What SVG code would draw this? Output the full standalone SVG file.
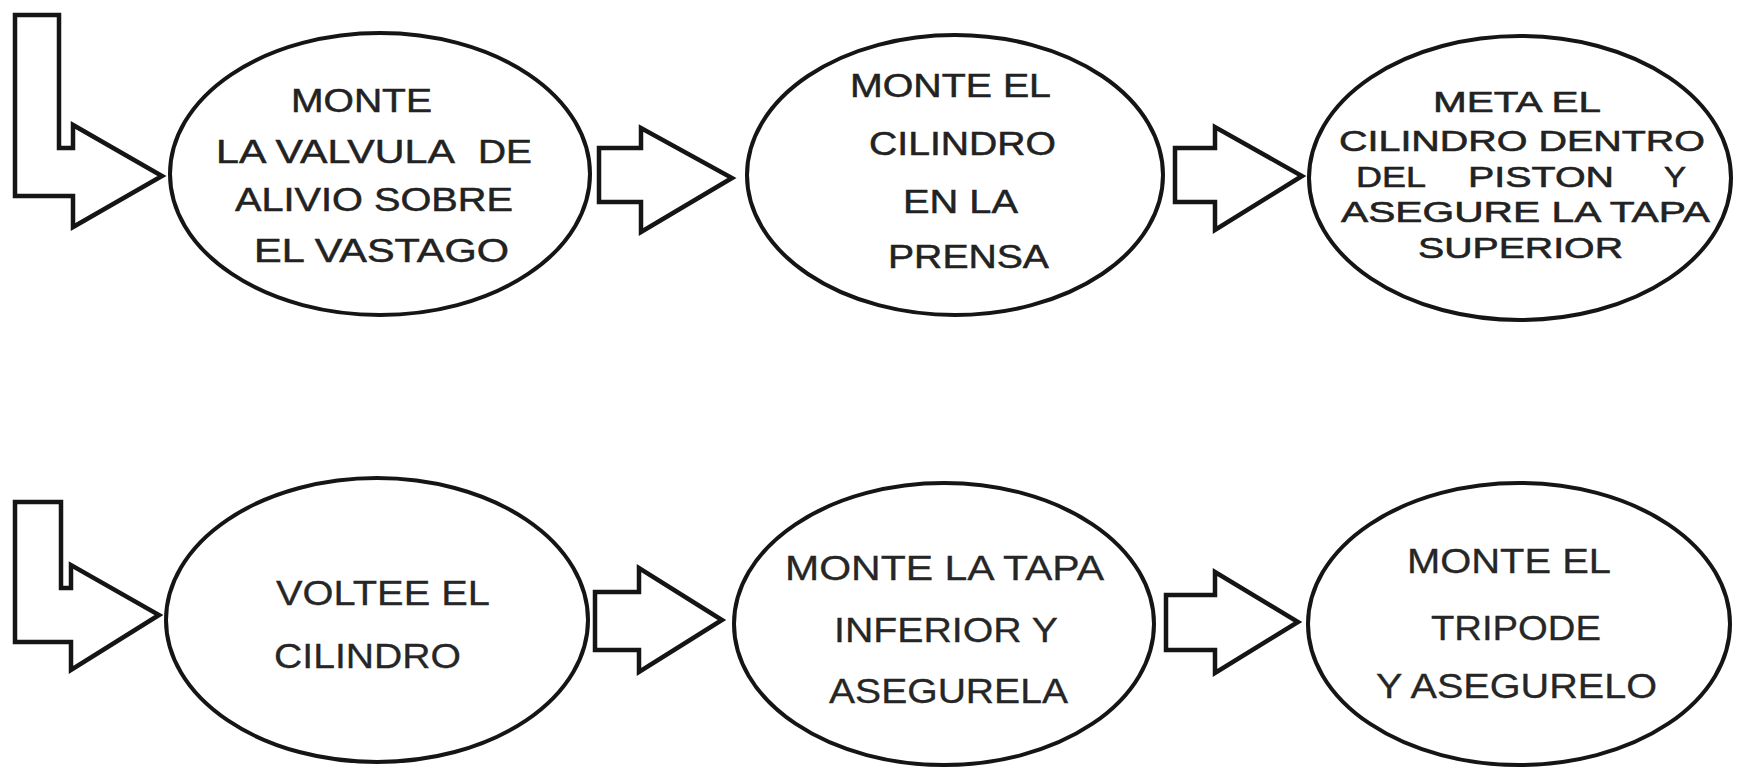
<svg xmlns="http://www.w3.org/2000/svg" width="1739" height="769" viewBox="0 0 1739 769">
<style>
.bg{fill:#ffffff}
.node ellipse{fill:#ffffff;stroke:#151515;stroke-width:4}
.arrow{fill:#ffffff;stroke:#151515;stroke-width:4.5;stroke-linejoin:miter}
.t{font-family:"Liberation Sans",Arial,sans-serif;font-size:33px;fill:#222222;stroke:#222222;stroke-width:0.5}
.t3{font-family:"Liberation Sans",Arial,sans-serif;font-size:30px;fill:#222222;stroke:#222222;stroke-width:0.6}
.t2{font-family:"Liberation Sans",Arial,sans-serif;font-size:35px;fill:#262626;stroke:#262626;stroke-width:0.3}
</style>
<rect class="bg" x="0" y="0" width="1739" height="769"/>
<g id="connectors">
<path class="arrow" d="M15,15 L59,15 L59,148 L73,148 L73,125 L162,176 L73,227 L73,196 L15,196 Z"/>
<path class="arrow" d="M599,148 L641,148 L641,128 L732,178 L641,232 L641,202 L599,202 Z"/>
<path class="arrow" d="M1175,148 L1215,148 L1215,127 L1302,176 L1215,230 L1215,202 L1175,202 Z"/>
<path class="arrow" d="M15,502 L61,502 L61,588 L71,588 L71,565 L159,615 L71,670 L71,642 L15,642 Z"/>
<path class="arrow" d="M595,592 L639,592 L639,568 L722,620 L639,672 L639,650 L595,650 Z"/>
<path class="arrow" d="M1166,595 L1215,595 L1215,572 L1298,622 L1215,673 L1215,650 L1166,650 Z"/>
</g>
<g id="n1" class="node">
<ellipse cx="380" cy="174" rx="210" ry="141"/>
<text class="t" x="291" y="112" textLength="141" lengthAdjust="spacingAndGlyphs">MONTE</text>
<text class="t" y="163"><tspan x="216" textLength="239" lengthAdjust="spacingAndGlyphs">LA VALVULA</tspan><tspan x="478" textLength="54" lengthAdjust="spacingAndGlyphs">DE</tspan></text>
<text class="t" x="235" y="211" textLength="278" lengthAdjust="spacingAndGlyphs">ALIVIO SOBRE</text>
<text class="t" x="254" y="262" textLength="255" lengthAdjust="spacingAndGlyphs">EL VASTAGO</text>
</g>
<g id="n2" class="node">
<ellipse cx="955" cy="175" rx="208" ry="140"/>
<text class="t" x="850" y="97" textLength="201" lengthAdjust="spacingAndGlyphs">MONTE EL</text>
<text class="t" x="869" y="155" textLength="187" lengthAdjust="spacingAndGlyphs">CILINDRO</text>
<text class="t" x="903" y="213" textLength="115" lengthAdjust="spacingAndGlyphs">EN LA</text>
<text class="t" x="888" y="268" textLength="161" lengthAdjust="spacingAndGlyphs">PRENSA</text>
</g>
<g id="n3" class="node">
<ellipse cx="1520" cy="178" rx="211" ry="142"/>
<text class="t3" x="1433" y="112" textLength="168" lengthAdjust="spacingAndGlyphs">META EL</text>
<text class="t3" x="1339" y="151" textLength="366" lengthAdjust="spacingAndGlyphs">CILINDRO DENTRO</text>
<text class="t3" y="187"><tspan x="1356" textLength="70" lengthAdjust="spacingAndGlyphs">DEL</tspan><tspan x="1468" textLength="146" lengthAdjust="spacingAndGlyphs">PISTON</tspan><tspan x="1664" textLength="22" lengthAdjust="spacingAndGlyphs">Y</tspan></text>
<text class="t3" x="1341" y="222" textLength="369" lengthAdjust="spacingAndGlyphs">ASEGURE LA TAPA</text>
<text class="t3" x="1418" y="258" textLength="205" lengthAdjust="spacingAndGlyphs">SUPERIOR</text>
</g>
<g id="n4" class="node">
<ellipse cx="377" cy="620" rx="211" ry="142"/>
<text class="t2" x="276" y="605" textLength="214" lengthAdjust="spacingAndGlyphs">VOLTEE EL</text>
<text class="t2" x="274" y="668" textLength="187" lengthAdjust="spacingAndGlyphs">CILINDRO</text>
</g>
<g id="n5" class="node">
<ellipse cx="944" cy="624" rx="210" ry="141"/>
<text class="t2" x="785" y="580" textLength="319" lengthAdjust="spacingAndGlyphs">MONTE LA TAPA</text>
<text class="t2" x="834" y="642" textLength="224" lengthAdjust="spacingAndGlyphs">INFERIOR Y</text>
<text class="t2" x="829" y="703" textLength="239" lengthAdjust="spacingAndGlyphs">ASEGURELA</text>
</g>
<g id="n6" class="node">
<ellipse cx="1519" cy="624" rx="211" ry="141"/>
<text class="t2" x="1407" y="573" textLength="204" lengthAdjust="spacingAndGlyphs">MONTE EL</text>
<text class="t2" x="1431" y="640" textLength="170" lengthAdjust="spacingAndGlyphs">TRIPODE</text>
<text class="t2" x="1376" y="698" textLength="281" lengthAdjust="spacingAndGlyphs">Y ASEGURELO</text>
</g>
</svg>
